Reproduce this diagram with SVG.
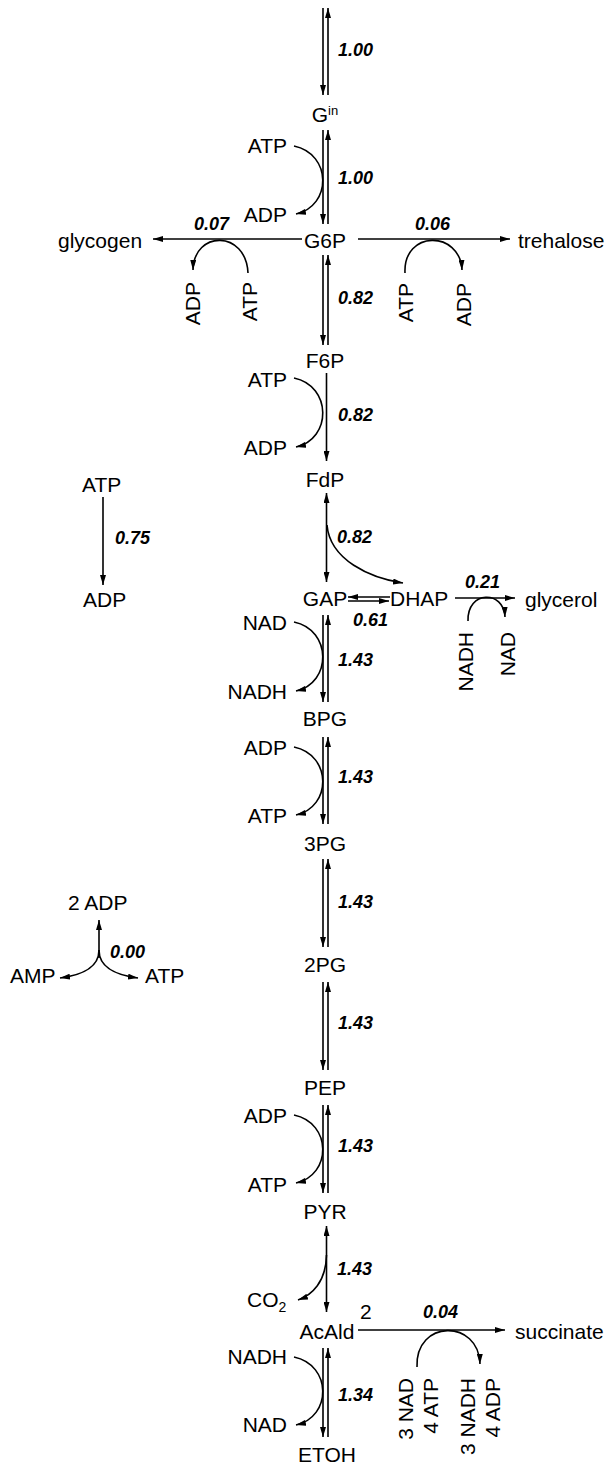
<svg xmlns="http://www.w3.org/2000/svg" width="606" height="1467" viewBox="0 0 606 1467">
<style>
.n{font-family:"Liberation Sans",Arial,sans-serif;font-size:21px;fill:#000}
.e{text-anchor:end}
.m{text-anchor:middle}
.r{font-family:"Liberation Sans",Arial,sans-serif;font-size:18px;font-weight:bold;font-style:italic;fill:#000}
.l{stroke:#000;stroke-width:1.6;fill:none;marker-end:url(#ah)}
.b{marker-start:url(#ah)}
</style>
<defs>
<marker id="ah" markerUnits="userSpaceOnUse" markerWidth="10" markerHeight="6" refX="10" refY="3" orient="auto-start-reverse">
<path d="M0,0 L10,3 L0,6 z" fill="#000"/>
</marker>
</defs>
<rect width="606" height="1467" fill="#fff"/>
<g id="connectors">
<path class="l" d="M323,8 V95"/><path class="l" d="M328,95 V8"/>
<path class="l" d="M323,130 V224"/><path class="l" d="M328,224 V130"/>
<path class="l" d="M294,146 C332,154 332,206 296,214"/>
<path class="l" d="M302,239 H153"/>
<path class="l" d="M248,273 C246,230 194,230 193,270"/>
<path class="l" d="M358,239 H510"/>
<path class="l" d="M405,273 C403,230 460,230 462,270"/>
<path class="l" d="M323,255 V345"/><path class="l" d="M328,345 V255"/>
<path class="l" d="M326.5,373 V461"/>
<path class="l" d="M294,378 C332,386 332,439 296,447"/>
<path class="l b" d="M326.5,493 V582"/>
<path class="l" d="M327,525 C330,560 370,578 403,583"/>
<path class="l" d="M390,597 H348"/><path class="l" d="M348,601 H389"/>
<path class="l" d="M455,598 H515"/>
<path class="l" d="M468,621 C467,590 504,590 505,617"/>
<path class="l" d="M103,497 V585"/>
<path class="l" d="M323,615 V702"/><path class="l" d="M328,702 V615"/>
<path class="l" d="M294,622 C332,630 332,683 296,691"/>
<path class="l" d="M323,737 V824"/><path class="l" d="M328,824 V737"/>
<path class="l" d="M294,747 C332,755 332,807 296,815"/>
<path class="l" d="M323,859 V947"/><path class="l" d="M328,947 V859"/>
<path class="l" d="M99,958 V920"/>
<path class="l" d="M99,950 C99,968 82,975 60,978"/>
<path class="l" d="M99,950 C99,968 116,975 138,978"/>
<path class="l" d="M323,982 V1070"/><path class="l" d="M328,1070 V982"/>
<path class="l" d="M323,1105 V1193"/><path class="l" d="M328,1193 V1105"/>
<path class="l" d="M294,1115 C332,1123 332,1175 296,1183"/>
<path class="l b" d="M326.5,1226 V1312"/>
<path class="l" d="M326.5,1255 C326,1282 312,1295 298,1300"/>
<path class="l" d="M358,1330 H505"/>
<path class="l" d="M417,1367 C415,1319 479,1319 480,1364"/>
<path class="l" d="M323,1348 V1437"/><path class="l" d="M328,1437 V1348"/>
<path class="l" d="M294,1357 C332,1365 332,1417 296,1425"/>
</g>
<g id="labels" class="r">
<text x="338" y="56">1.00</text>
<text x="338" y="184">1.00</text>
<text x="194" y="230">0.07</text>
<text x="415" y="230">0.06</text>
<text x="338" y="304">0.82</text>
<text x="338" y="421">0.82</text>
<text x="115" y="544">0.75</text>
<text x="337" y="543">0.82</text>
<text x="465" y="588">0.21</text>
<text x="353" y="626">0.61</text>
<text x="338" y="666">1.43</text>
<text x="338" y="783">1.43</text>
<text x="338" y="908">1.43</text>
<text x="110" y="958">0.00</text>
<text x="338" y="1029">1.43</text>
<text x="338" y="1152">1.43</text>
<text x="337" y="1275">1.43</text>
<text x="423" y="1318">0.04</text>
<text x="338" y="1401">1.34</text>
</g>
<g id="node-Gin"><text class="n m" x="325" y="122">G<tspan font-size="13" dy="-7">in</tspan></text></g>
<g id="node-G6P"><text class="n m" x="325" y="248">G6P</text></g>
<g id="node-glycogen"><text class="n" x="58" y="248">glycogen</text></g>
<g id="node-trehalose"><text class="n" x="518" y="248">trehalose</text></g>
<g id="node-F6P"><text class="n m" x="325" y="368">F6P</text></g>
<g id="node-FdP"><text class="n m" x="325" y="487">FdP</text></g>
<g id="node-GAP"><text class="n m" x="325" y="606">GAP</text></g>
<g id="node-DHAP"><text class="n" x="390" y="606">DHAP</text></g>
<g id="node-glycerol"><text class="n" x="525" y="607">glycerol</text></g>
<g id="node-BPG"><text class="n m" x="325" y="726">BPG</text></g>
<g id="node-3PG"><text class="n m" x="325" y="851">3PG</text></g>
<g id="node-2PG"><text class="n m" x="325" y="972">2PG</text></g>
<g id="node-PEP"><text class="n m" x="325" y="1095">PEP</text></g>
<g id="node-PYR"><text class="n m" x="325" y="1219">PYR</text></g>
<g id="node-AcAld"><text class="n m" x="327" y="1339">AcAld</text><text class="n" x="360" y="1319" font-size="14">2</text></g>
<g id="node-succinate"><text class="n" x="515" y="1339">succinate</text></g>
<g id="node-ETOH"><text class="n m" x="327" y="1462">ETOH</text></g>
<g id="cofactors" class="n">
<text class="e" x="287" y="153">ATP</text><text class="e" x="287" y="222">ADP</text>
<text class="e" x="200" y="282" transform="rotate(-90 200 282)">ADP</text>
<text class="e" x="257" y="282" transform="rotate(-90 257 282)">ATP</text>
<text class="e" x="413" y="283" transform="rotate(-90 413 283)">ATP</text>
<text class="e" x="471" y="283" transform="rotate(-90 471 283)">ADP</text>
<text class="e" x="287" y="387">ATP</text><text class="e" x="287" y="455">ADP</text>
<text x="82" y="492">ATP</text><text x="83" y="607">ADP</text>
<text class="e" x="473" y="632" transform="rotate(-90 473 632)">NADH</text>
<text class="e" x="515" y="632" transform="rotate(-90 515 632)">NAD</text>
<text class="e" x="287" y="630">NAD</text><text class="e" x="287" y="699">NADH</text>
<text class="e" x="287" y="755">ADP</text><text class="e" x="287" y="823">ATP</text>
<text x="68" y="910">2 ADP</text>
<text x="10" y="983">AMP</text><text x="145" y="983">ATP</text>
<text class="e" x="287" y="1123">ADP</text><text class="e" x="287" y="1192">ATP</text>
<text x="247" y="1307">CO<tspan font-size="14" dy="5">2</tspan></text>
<text class="e" x="287" y="1364">NADH</text><text class="e" x="287" y="1432">NAD</text>
<text class="e" x="413" y="1378" transform="rotate(-90 413 1378)">3 NAD</text>
<text class="e" x="438" y="1378" transform="rotate(-90 438 1378)">4 ATP</text>
<text class="e" x="475" y="1378" transform="rotate(-90 475 1378)">3 NADH</text>
<text class="e" x="500" y="1378" transform="rotate(-90 500 1378)">4 ADP</text>
</g>
</svg>
